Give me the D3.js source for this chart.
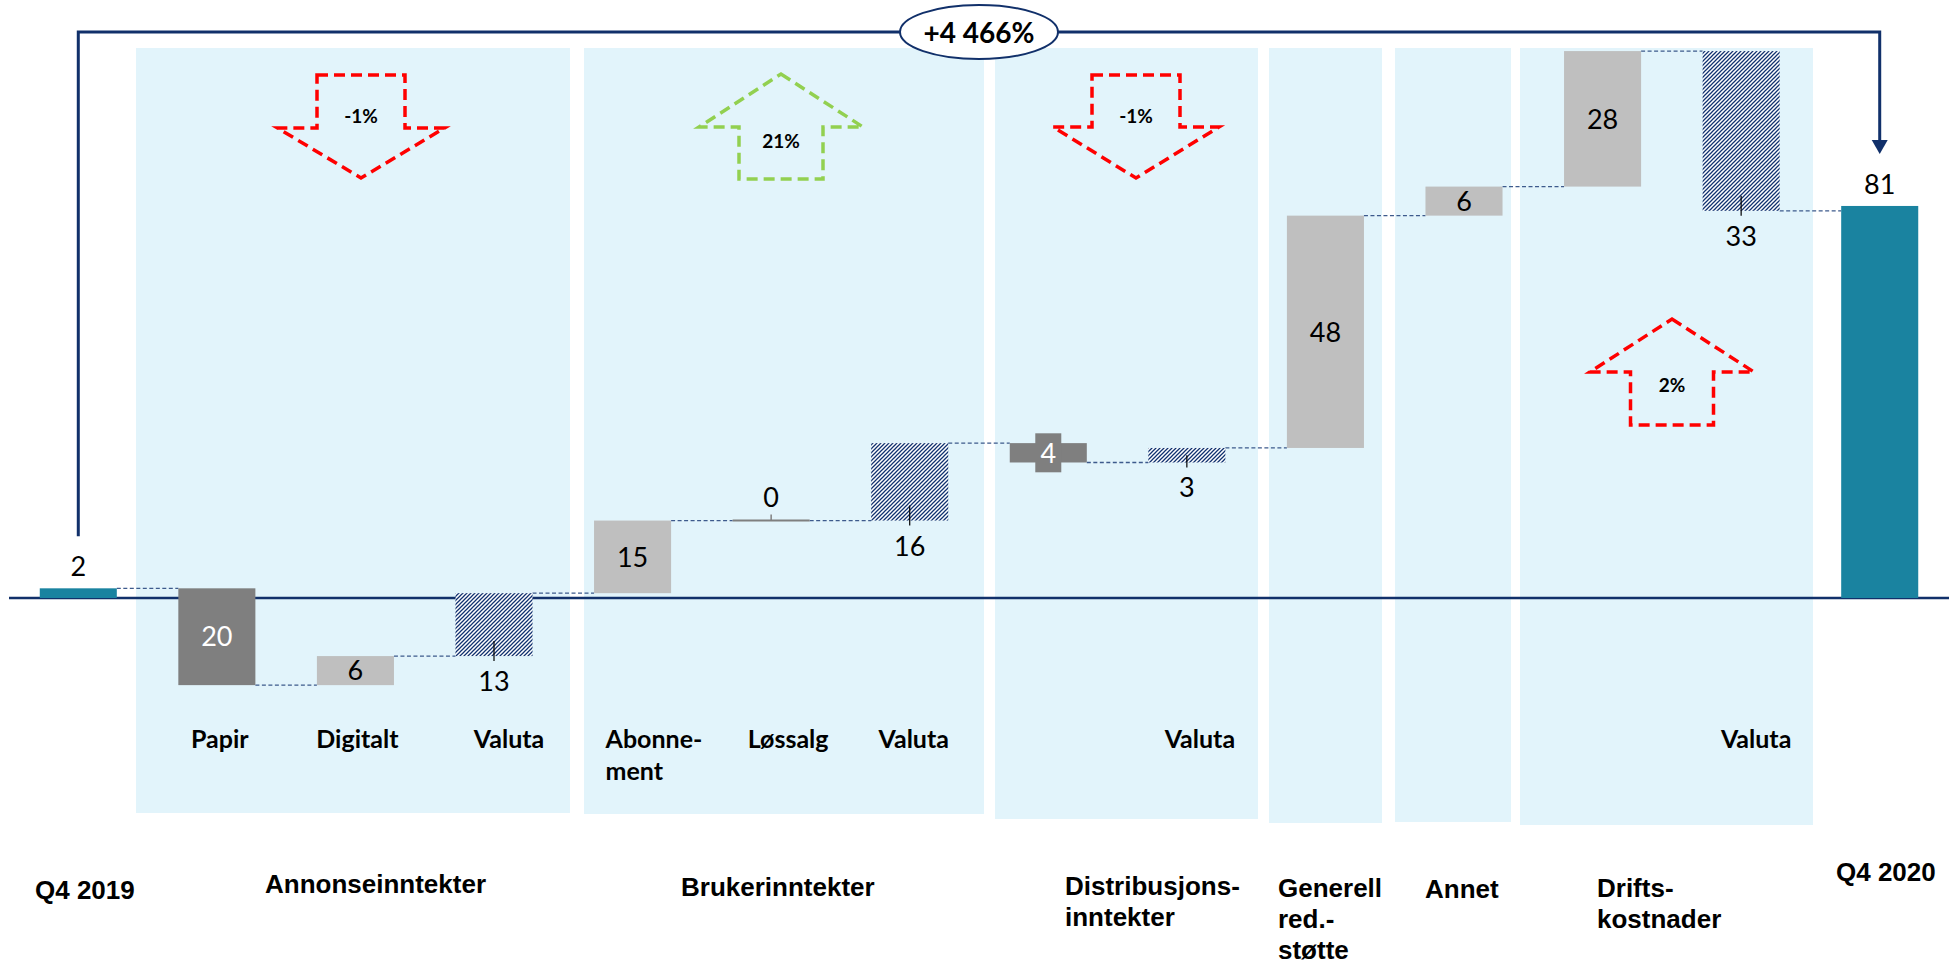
<!DOCTYPE html>
<html>
<head>
<meta charset="utf-8">
<script src="https://cdn.jsdelivr.net/npm/d3@7"></script>
<style>
  html, body { margin: 0; padding: 0; background: #ffffff; }
  svg { display: block; }
</style>
</head>
<body>
<svg id="chart" width="1957" height="966"></svg>
<script>
// ---- Data: result bridge Q4 2019 -> Q4 2020 ----
const steps = ["Q4 2019", "Papir", "Digitalt", "Valuta annonse", "Abonnement", "Løssalg",
               "Valuta bruker", "Distribusjonsinntekter", "Valuta distribusjon",
               "Generell red.-støtte", "Annet", "Driftskostnader", "Valuta drift", "Q4 2020"];
const values = [2, -20, 6, 13, 15, 0, 16, -4, 3, 48, 6, 28, -33, 81];
const stepTypes = ["total", "change", "change", "currency", "change", "change", "currency",
                   "change", "currency", "change", "change", "change", "currency", "total"];
const subLabels = [[], ["Papir"], ["Digitalt"], ["Valuta"], ["Abonne-", "ment"], ["Løssalg"],
                   ["Valuta"], [], ["Valuta"], [], [], [], ["Valuta"], []];
const groupLabels = [["Q4 2019"], ["Annonseinntekter"], ["Brukerinntekter"],
                     ["Distribusjons-", "inntekter"], ["Generell", "red.-", "støtte"],
                     ["Annet"], ["Drifts-", "kostnader"], ["Q4 2020"]];
const trendLabels = ["-1%", "21%", "-1%", "2%"];
const trendDirections = ["down", "up", "down", "up"];
const trendPositive = [false, true, false, false];
const totalChangeLabel = "+4 466%";

// ---- Layout ----
const NAVY = "#11306a";
const colors = {
  total: "#1a83a0", down: "#7f7f7f", up: "#bfbfbf", panel: "#e2f4fb",
  connector: "#3d5a8c", red: "#ff0000", green: "#92d050", hatch: "#10316f"
};
const panels = [ // [left, right, bottom] of the light blue group backgrounds
  [136, 570, 813], [584, 984, 814], [995, 1258, 819],
  [1269, 1382, 823], [1395, 1511, 822], [1520, 1813, 825]
];
const panelTop = 48;
const subLabelShift = [0, 3, 2, 15, -27, 17, 4, 0, 13, 0, 0, 0, 15, 0];
const subLabelBaseline = 748;
const groupLabelPos = [[35, 899], [265, 893], [681, 896], [1065, 895], [1278, 897],
                       [1425, 898], [1597, 897], [1836, 881]];
const trendShapes = [ // centre x, first y, head base y, last y, shaft / head half widths
  { cx: 361, top: 75, base: 128, tip: 178, shaft: 44, head: 83.5, ty: 123 },
  { cx: 781, top: 74, base: 127, tip: 179, shaft: 42, head: 82, ty: 148 },
  { cx: 1136, top: 75, base: 127, tip: 178, shaft: 44, head: 83, ty: 123 },
  { cx: 1672, top: 319, base: 372, tip: 425, shaft: 41.5, head: 82, ty: 392 }
];

const svg = d3.select("#chart");
const defs = svg.append("defs");
// upward diagonal hatch ("////") for the currency effects
const T = 4;
const hatch = defs.append("pattern")
  .attr("id", "hatch").attr("patternUnits", "userSpaceOnUse")
  .attr("width", T).attr("height", T);
hatch.append("rect").attr("width", T).attr("height", T).attr("fill", "#ffffff");
hatch.append("path")
  .attr("d", `M0,${T}L${T},0M-1,1L1,-1M${T - 1},${T + 1}L${T + 1},${T - 1}`)
  .attr("stroke", colors.hatch).attr("stroke-width", 1.25);

// ---- Scales ----
const x = d3.scaleBand().domain(d3.range(steps.length)).range([9, 1949])
  .paddingInner(0.444).paddingOuter(0.222);
const y = d3.scaleLinear().domain([0, 100]).range([598, 114]);
const cx = i => x(i) + x.bandwidth() / 2;

// running levels of the waterfall
let level = 0;
const bars = values.map((v, i) => {
  let start, end;
  if (stepTypes[i] === "total") { start = 0; end = v; }
  else { start = level; end = level + v; }
  level = end;
  return { i, v, type: stepTypes[i], start, end };
});

// ---- Group backgrounds ----
svg.append("g").selectAll("rect").data(panels).join("rect")
  .attr("x", d => d[0]).attr("y", panelTop)
  .attr("width", d => d[1] - d[0]).attr("height", d => d[2] - panelTop)
  .attr("fill", colors.panel);

// ---- Zero line ----
svg.append("line")
  .attr("x1", x.range()[0]).attr("x2", x.range()[1])
  .attr("y1", y(0)).attr("y2", y(0))
  .attr("stroke", NAVY).attr("stroke-width", 2.5);

// ---- Connectors ----
svg.append("g").selectAll("line").data(bars.slice(0, -1)).join("line")
  .attr("x1", d => x(d.i) + x.bandwidth())
  .attr("x2", d => x(d.i + 1))
  .attr("y1", d => y(d.end)).attr("y2", d => y(d.end))
  .attr("stroke", colors.connector).attr("stroke-width", 1.3)
  .attr("stroke-dasharray", "4,2.5");

// ---- Bars ----
const fillFor = d => d.type === "total" ? colors.total
  : d.type === "currency" ? "url(#hatch)"
  : d.v < 0 ? colors.down : colors.up;

const barG = svg.append("g");
barG.selectAll("rect").data(bars.filter(d => d.v !== 0)).join("rect")
  .attr("x", d => x(d.i)).attr("width", x.bandwidth())
  .attr("y", d => y(Math.max(d.start, d.end)))
  .attr("height", d => Math.abs(y(d.start) - y(d.end)))
  .attr("fill", fillFor);

// zero-change step: flat line with a small tick
bars.filter(d => d.v === 0).forEach(d => {
  barG.append("line")
    .attr("x1", x(d.i)).attr("x2", x(d.i) + x.bandwidth())
    .attr("y1", y(d.end)).attr("y2", y(d.end))
    .attr("stroke", "#7f7f7f").attr("stroke-width", 2);
  barG.append("line")
    .attr("x1", cx(d.i)).attr("x2", cx(d.i))
    .attr("y1", y(d.end) - 6).attr("y2", y(d.end))
    .attr("stroke", "#7f7f7f").attr("stroke-width", 1.5);
});

// ---- Value labels ----
const valueFont = "Lato, 'Open Sans', sans-serif";
const lab = svg.append("g").attr("font-family", valueFont).attr("font-size", 27)
  .attr("text-anchor", "middle");

bars.forEach(d => {
  const top = y(Math.max(d.start, d.end));
  const bottom = y(Math.min(d.start, d.end));
  const txt = String(Math.abs(d.v));
  if (d.type === "total") {
    lab.append("text").attr("x", cx(d.i)).attr("y", top - 12).attr("fill", "#000").text(txt);
  } else if (d.type === "currency") {
    const h = bottom - top;
    barG.append("line")
      .attr("x1", cx(d.i)).attr("x2", cx(d.i))
      .attr("y1", bottom - Math.min(15, h / 2)).attr("y2", bottom + 5)
      .attr("stroke", "#000").attr("stroke-width", 1.2);
    lab.append("text").attr("x", cx(d.i)).attr("y", bottom + 35).attr("fill", "#000").text(txt);
  } else if (d.v === 0) {
    lab.append("text").attr("x", cx(d.i)).attr("y", y(d.end) - 14).attr("fill", "#000").text(txt);
  } else {
    const mid = (top + bottom) / 2;
    const neg = d.v < 0;
    if (bottom - top < 24) {
      lab.append("rect").attr("x", cx(d.i) - 13).attr("y", mid - 19.5)
        .attr("width", 26).attr("height", 39).attr("fill", fillFor(d));
    }
    lab.append("text").attr("x", cx(d.i)).attr("y", mid + 9.7)
      .attr("fill", neg ? "#ffffff" : "#000000").text(txt);
  }
});

// ---- Sub-category labels ----
const sub = svg.append("g").attr("font-family", valueFont).attr("font-weight", 700)
  .attr("font-size", 25).attr("fill", "#000");
subLabels.forEach((lines, i) => {
  if (!lines.length) return;
  const multi = lines.length > 1;
  const t = sub.append("text")
    .attr("x", cx(i) + subLabelShift[i])
    .attr("y", subLabelBaseline)
    .attr("text-anchor", multi ? "start" : "middle");
  lines.forEach((ln, k) => {
    t.append("tspan").attr("x", cx(i) + subLabelShift[i]).attr("dy", k === 0 ? 0 : 32).text(ln);
  });
});

// ---- Group labels ----
const grp = svg.append("g").attr("font-family", "'Liberation Sans', Arial, sans-serif")
  .attr("font-weight", 700).attr("font-size", 26).attr("fill", "#000");
groupLabels.forEach((lines, g) => {
  const [gx, gy] = groupLabelPos[g];
  const t = grp.append("text").attr("x", gx).attr("y", gy);
  lines.forEach((ln, k) => {
    t.append("tspan").attr("x", gx).attr("dy", k === 0 ? 0 : 31).text(ln);
  });
});

// ---- Trend arrows (dashed block arrows) ----
const arrows = svg.append("g");
trendShapes.forEach((s, k) => {
  const dir = trendDirections[k];
  const c = trendPositive[k] ? colors.green : colors.red;
  let pts;
  if (dir === "down") {
    pts = [[s.cx - s.shaft, s.top], [s.cx + s.shaft, s.top], [s.cx + s.shaft, s.base],
           [s.cx + s.head, s.base], [s.cx, s.tip], [s.cx - s.head, s.base],
           [s.cx - s.shaft, s.base]];
  } else {
    pts = [[s.cx, s.top], [s.cx + s.head, s.base], [s.cx + s.shaft, s.base],
           [s.cx + s.shaft, s.tip], [s.cx - s.shaft, s.tip], [s.cx - s.shaft, s.base],
           [s.cx - s.head, s.base]];
  }
  arrows.append("path")
    .attr("d", d3.line()(pts) + "Z")
    .attr("fill", "none").attr("stroke", c).attr("stroke-width", 3.5)
    .attr("stroke-dasharray", "11,6").attr("stroke-linejoin", "miter");
  arrows.append("text")
    .attr("x", s.cx).attr("y", s.ty).attr("text-anchor", "middle")
    .attr("font-family", valueFont).attr("font-weight", 700).attr("font-size", 19)
    .attr("fill", "#000").text(trendLabels[k]);
});

// ---- Total change bracket ----
const first = 0, last = steps.length - 1;
const bracketY = 32;
const startY = y(values[first]) - 52;
const endY = y(values[last]) - 52;
svg.append("path")
  .attr("d", `M${cx(first)},${startY}V${bracketY}H${cx(last)}V${endY - 12}`)
  .attr("fill", "none").attr("stroke", NAVY).attr("stroke-width", 3);
svg.append("path")
  .attr("d", `M${cx(last) - 8},${endY - 14}L${cx(last) + 8},${endY - 14}L${cx(last)},${endY}Z`)
  .attr("fill", NAVY);
const midX = (cx(first) + cx(last)) / 2;
svg.append("ellipse")
  .attr("cx", midX).attr("cy", bracketY).attr("rx", 79).attr("ry", 27)
  .attr("fill", "#ffffff").attr("stroke", NAVY).attr("stroke-width", 2);
svg.append("text")
  .attr("x", midX).attr("y", bracketY + 10.5).attr("text-anchor", "middle")
  .attr("font-family", valueFont).attr("font-weight", 700).attr("font-size", 28)
  .attr("fill", "#000").text(totalChangeLabel);
</script>
</body>
</html>
